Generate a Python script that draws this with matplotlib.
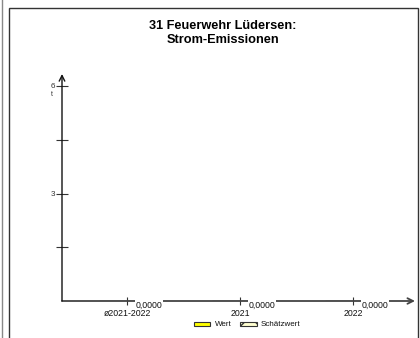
import matplotlib
matplotlib.use("Agg")
import matplotlib.pyplot as plt
from matplotlib.patches import Rectangle
from matplotlib.lines import Line2D

categories = ["ø2021-2022", "2021", "2022"]
wert = [0.0, 0.0, 0.0]
value_labels = ["0,0000", "0,0000", "0,0000"]
yticks = [1.5, 3, 4.5, 6]
ytick_labels = ["", "3", "", "6"]
title = "31 Feuerwehr Lüdersen:\nStrom-Emissionen"
unit = "t"

plt.rcParams['font.family'] = ['Liberation Sans', 'DejaVu Sans']
plt.rcParams['hatch.color'] = '#e0d000'

W, H = 420, 338
fig = plt.figure(figsize=(W/100, H/100), dpi=100)
fig.patch.set_facecolor('white')

# outer frames
fig.add_artist(Line2D([1.5/W, 1.5/W], [0, 1], color='#888888', lw=1.0))
fig.add_artist(Rectangle((9/W, -0.1), (418-9)/W, 1.1 - 8/H, fill=False,
                         edgecolor='#333333', lw=1.0, transform=fig.transFigure))

x0, x1 = 62, 415
y0, y1 = 301, 74
ppu = (301-86)/6.0
ax = fig.add_axes([x0/W, (H-y0)/H, (x1-x0)/W, (y0-y1)/H])
ax.set_facecolor('none')
spacing = 113
xmin = -(127-62)/spacing
xmax = (415-127)/spacing
ymax = (y0-y1)/ppu
ax.set_xlim(xmin, xmax)
ax.set_ylim(0, ymax)
for s in ax.spines.values():
    s.set_visible(False)

xs = list(range(len(categories)))
ax.bar(xs, wert, width=0.5, color='#ffff00', edgecolor='#333333')

# axis lines with arrows
ax.annotate('', xy=(xmax, 0), xytext=(xmin, 0), xycoords='data',
            arrowprops=dict(arrowstyle='->', color='#444444', lw=1.3,
                            shrinkA=0, shrinkB=0), annotation_clip=False)
ax.annotate('', xy=(xmin, ymax), xytext=(xmin, 0), xycoords='data',
            arrowprops=dict(arrowstyle='->', color='#111111', lw=1.0,
                            shrinkA=0, shrinkB=0), annotation_clip=False)

ax.set_yticks(yticks)
ax.set_yticklabels(ytick_labels, fontsize=5.8, color='#333333')
ax.tick_params(axis='y', direction='inout', length=8, width=0.8, pad=1, color='#333333')
ax.set_xticks(xs)
ax.set_xticklabels(categories, fontsize=6.3, color='#111111')
ax.tick_params(axis='x', direction='inout', length=6, width=0.8, pad=3, color='#333333')

ax.text(xmin - 10/spacing, 6 - 8/ppu, unit, fontsize=5, ha='center', va='center', color='#333333')

for x, v, lab in zip(xs, wert, value_labels):
    ax.text(x + 9/spacing, v + 0.5/ppu, lab, fontsize=6.3, ha='left', va='top', color='#111111',
            bbox=dict(facecolor='white', edgecolor='none', pad=0.5))

fig.text(223/W, 1 - 33/H, title, fontsize=9.2, fontweight='bold', ha='center', va='center',
         linespacing=1.25)

# legend
fig.add_artist(Rectangle((194/W, (H-326)/H), 16/W, 4.5/H, facecolor='#ffff00', edgecolor='#333333',
                         lw=0.8, transform=fig.transFigure))
fig.text(215/W, (H-324)/H, "Wert", fontsize=5.8, ha='left', va='center', color='#111111')
fig.add_artist(Rectangle((240/W, (H-326)/H), 17/W, 4.5/H, facecolor='#ffffd0', edgecolor='#333333',
                         lw=0.8, transform=fig.transFigure, hatch='/\\'))
fig.text(261/W, (H-324)/H, "Schätzwert", fontsize=5.8, ha='left', va='center', color='#111111')

fig.savefig('out.png', dpi=100)
